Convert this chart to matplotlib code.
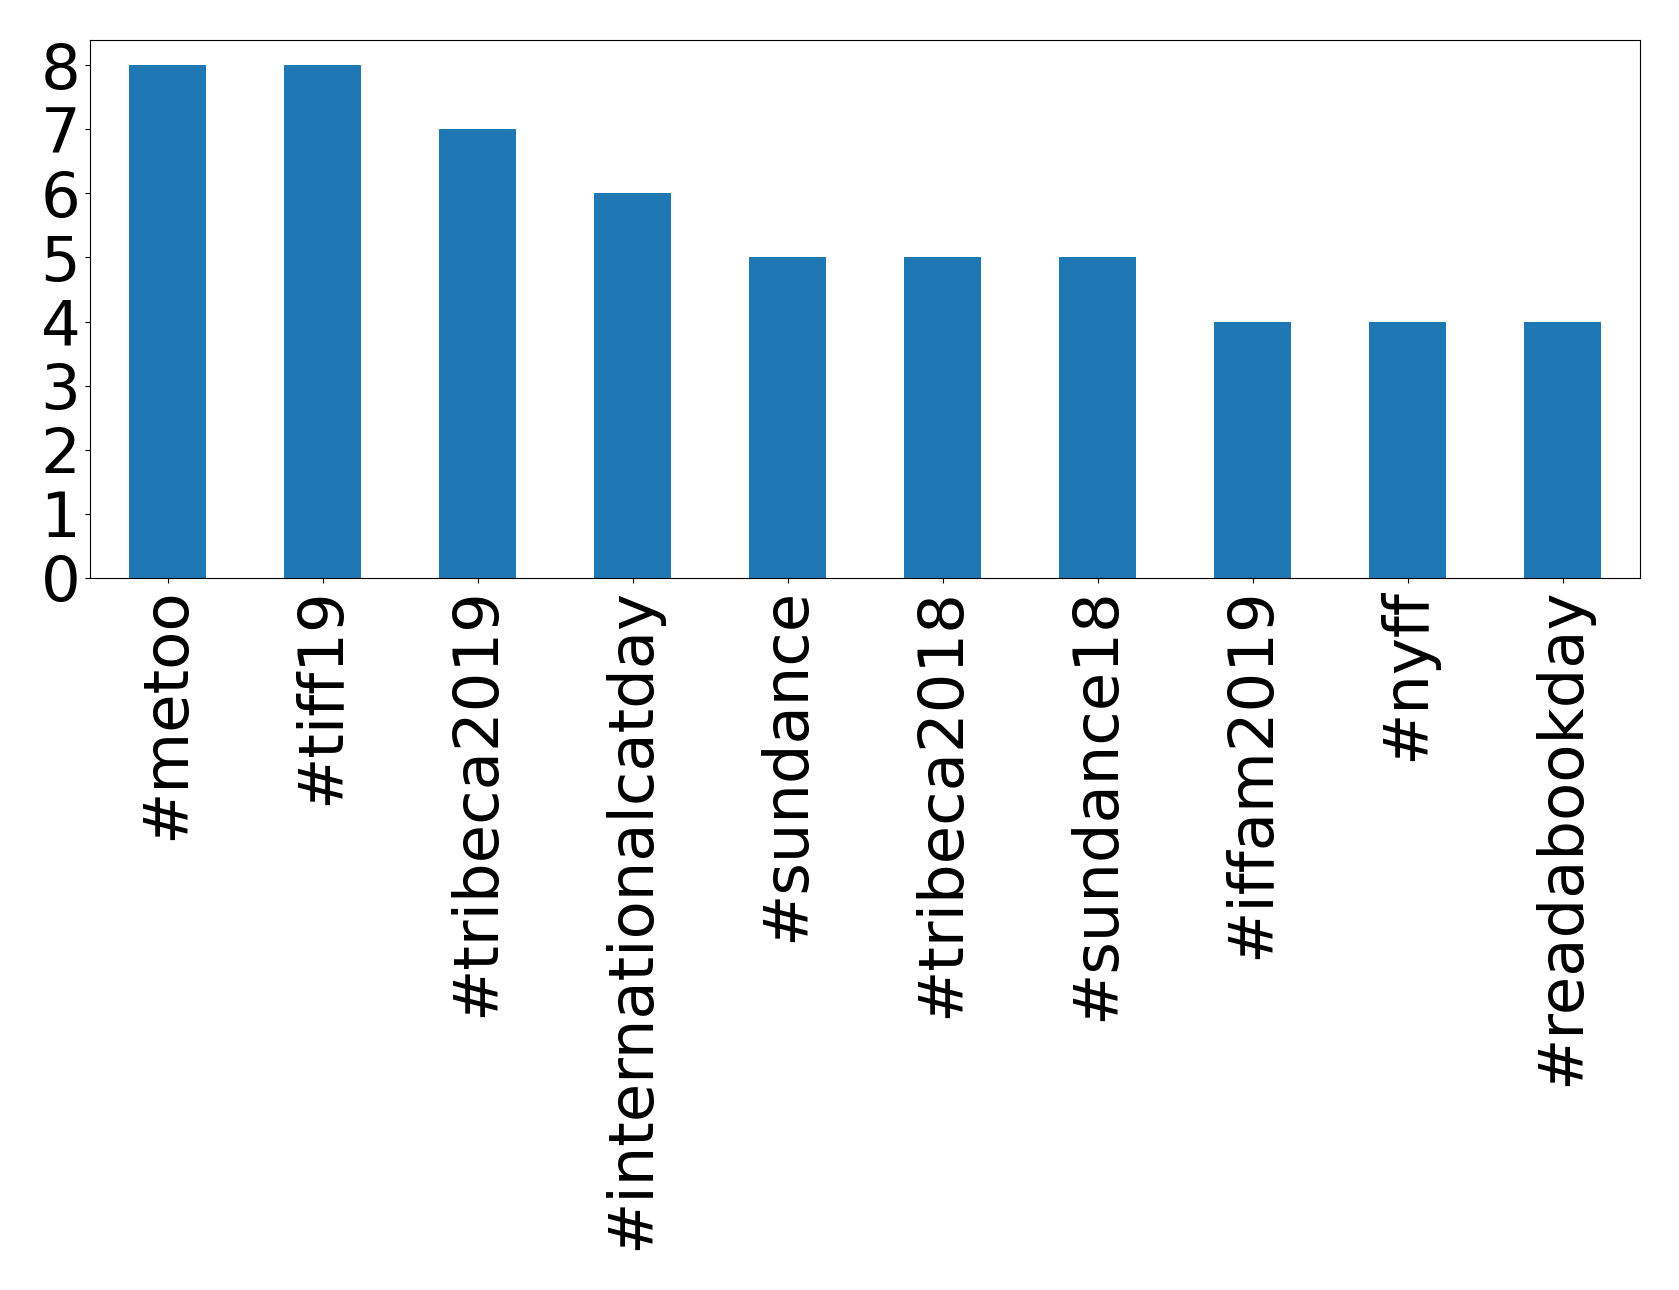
import matplotlib
matplotlib.use("Agg")
import matplotlib.pyplot as plt

hashtags = ["#metoo", "#tiff19", "#tribeca2019", "#internationalcatday", "#sundance",
            "#tribeca2018", "#sundance18", "#iffam2019", "#nyff", "#readabookday"]
counts = [8, 8, 7, 6, 5, 5, 5, 4, 4, 4]

W, H = 1679, 1290
fig = plt.figure(figsize=(W/100, H/100), dpi=100)
ax = fig.add_axes([90/W, 1-578/H, (1640-90)/W, (578-39.5)/H])
x = list(range(len(hashtags)))
ax.bar(x, counts, width=0.5, color="#1f77b4")
ax.set_xlim(-0.5, len(hashtags) - 0.5)
ax.set_ylim(0, 8.4)
ax.set_xticks(x)
ax.set_xticklabels(hashtags, rotation=90, fontsize=45)
ax.set_yticks(range(0, 9))
ax.tick_params(axis="y", labelsize=45)
fig.savefig("out.png", dpi=100)
